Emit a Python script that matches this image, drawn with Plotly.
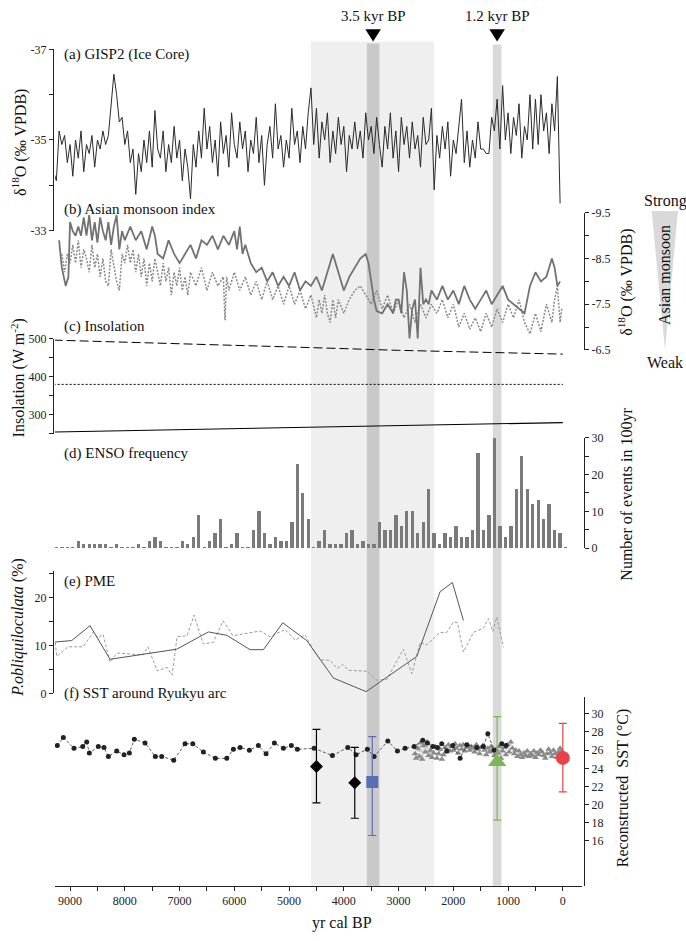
import plotly.graph_objects as go

W, H = 686, 941
def px(x): return x / W
def py(y): return 1 - y / H

FONT = "Liberation Serif, Times New Roman, Times, serif"

# ---------------- (a) GISP2 ----------------
gisp_years = list(range(9300, 0, -50))
gisp_d18o = [
    -34.3, -34.1, -35.2, -34.9, -35.1, -34.5, -34.9, -34.2, -35.0, -34.6,
    -35.2, -34.3, -34.9, -34.7, -35.1, -34.4, -35.0, -34.8, -35.2, -34.9,
    -35.1, -35.8, -36.45, -36.0, -35.4, -35.5, -34.9, -35.2, -34.5, -34.8,
    -33.8, -34.7, -34.3, -35.0, -34.5, -35.2, -34.4, -35.65, -34.8, -34.6,
    -35.2, -34.3, -34.9, -34.5, -35.3, -34.6, -35.0, -34.1, -34.8, -34.4,
    -33.7, -34.9, -34.4, -35.2, -34.6, -35.7, -34.8, -35.3, -34.5, -35.0,
    -34.2, -35.4, -34.7, -35.1, -34.4, -35.6, -34.9, -34.6, -35.4, -34.8,
    -35.2, -34.3, -35.0, -34.7, -35.5, -34.5, -35.1, -34.0, -34.9, -35.3,
    -34.6, -35.8, -34.8, -35.1, -34.4, -35.0, -34.6, -35.7, -34.9, -35.2,
    -34.5, -35.3, -34.8, -35.6, -36.15, -34.9, -35.7, -34.6, -35.4, -35.0,
    -35.6, -34.5, -35.2, -34.7, -35.5, -34.9, -35.3, -34.3, -35.1, -34.8,
    -35.4, -34.8, -35.2, -34.6, -35.6, -35.0, -35.3, -34.7, -35.5, -34.9,
    -34.4, -35.3, -34.8, -35.6, -34.6, -35.2, -34.3, -35.5, -34.9, -35.3,
    -34.6, -35.4, -34.8, -35.1, -34.4, -35.5, -34.9, -35.0, -35.7, -33.9,
    -35.1, -34.6, -35.3, -34.8, -35.4, -34.2, -35.0, -34.7, -35.3, -35.9,
    -34.5, -35.2, -34.4, -35.0, -34.6, -35.4, -34.8, -34.8, -34.7, -34.7,
    -35.5, -35.2, -35.9, -34.8, -36.2, -35.0, -35.6, -34.7, -35.5, -35.1,
    -35.8, -34.6, -35.3, -35.0, -36.0, -34.8, -35.9, -34.9, -36.0, -35.2,
    -35.6, -34.7, -35.8, -35.2, -36.4, -33.6,
]

# ---------------- (b) Asian monsoon index ----------------
am_solid_years = [9200, 9150, 9080, 9030, 9000, 8950, 8900, 8850, 8800, 8750, 8700, 8650, 8600, 8550,
                  8500, 8450, 8400, 8350, 8300, 8250, 8200, 8150, 8100, 8050, 8000, 7900, 7800, 7700,
                  7600, 7500, 7450, 7400, 7300, 7200, 7100, 7000, 6900, 6800, 6700, 6600, 6500, 6400,
                  6300, 6200, 6100, 6000, 5950, 5900, 5850, 5800, 5700, 5600, 5500, 5400, 5300, 5200,
                  5100, 5000, 4900, 4800, 4700, 4600, 4500, 4400, 4300, 4200, 4100, 4000, 3900, 3800,
                  3700, 3600, 3550, 3500, 3450, 3400, 3300, 3200, 3100, 3050, 3000, 2950, 2900, 2850,
                  2800, 2750, 2700, 2650, 2600, 2550, 2500, 2450, 2400, 2300, 2200, 2100, 2000, 1900,
                  1800, 1700, 1600, 1500, 1400, 1300, 1200, 1100, 1000, 900, 800, 700, 600, 500, 400,
                  300, 200, 150, 100, 50]
am_solid_d18o = [-8.9, -8.3, -7.9, -8.1, -9.3, -9.1, -9.0, -9.2, -9.0, -9.4, -9.0, -9.45, -8.9, -9.3,
                 -8.85, -9.4, -9.1, -8.9, -9.3, -8.8, -9.2, -9.45, -8.7, -9.1, -8.9, -9.2, -8.9, -9.1,
                 -8.7, -9.2, -9.0, -8.6, -8.5, -8.9, -8.6, -8.4, -8.6, -8.8, -8.5, -8.9, -8.8, -9.0,
                 -8.7, -9.0, -8.8, -9.1, -8.7, -9.2, -8.6, -8.8, -8.4, -8.2, -8.3, -8.0, -8.2, -7.9,
                 -8.1, -7.9, -8.2, -7.8, -8.0, -7.9, -8.1, -7.8, -8.2, -8.6, -8.2, -7.8, -8.1, -8.3,
                 -8.5, -8.6, -8.4, -8.0, -7.6, -7.35, -7.3, -7.5, -7.3, -7.6, -7.6, -7.3, -8.2, -7.8,
                 -6.75, -7.4, -7.6, -6.75, -8.3, -7.5, -7.6, -7.5, -7.8, -7.6, -7.9, -7.6, -7.8, -7.5,
                 -7.9, -7.6, -7.4, -7.6, -7.8, -7.5, -7.7, -7.9, -7.6, -7.5, -7.4, -7.3, -7.9, -8.2,
                 -8.0, -8.1, -8.5, -8.3, -7.9, -8.0]

am_dot_years = [9150, 9100, 9050, 9000, 8950, 8900, 8850, 8800, 8750, 8700, 8650, 8600, 8550, 8500,
                8450, 8400, 8350, 8300, 8250, 8200, 8150, 8100, 8050, 8000, 7950, 7900, 7850, 7800,
                7750, 7700, 7650, 7600, 7550, 7500, 7450, 7400, 7350, 7300, 7250, 7200, 7150, 7100,
                7050, 7000, 6950, 6900, 6850, 6800, 6700, 6600, 6500, 6400, 6300, 6200, 6170, 6140,
                6100, 6000, 5900, 5800, 5700, 5600, 5500, 5400, 5300, 5200, 5100, 5000, 4900, 4800,
                4700, 4600, 4500, 4450, 4400, 4350, 4300, 4250, 4200, 4150, 4100, 4000, 3900, 3800,
                3700, 3600, 3500, 3400, 3300, 3200, 3100, 3000, 2900, 2800, 2700, 2600, 2500, 2400,
                2300, 2200, 2100, 2000, 1900, 1800, 1700, 1600, 1500, 1400, 1300, 1200, 1100, 1000,
                900, 800, 700, 600, 500, 400, 300, 200, 150, 100, 50, 20]
am_dot_d18o = [-8.6, -8.2, -8.6, -8.4, -8.8, -8.4, -8.9, -8.3, -8.7, -8.5, -8.2, -8.8, -8.3, -8.6,
               -8.1, -8.5, -8.0, -7.9, -8.7, -8.3, -8.0, -7.8, -8.6, -8.4, -8.8, -8.4, -8.7, -8.2,
               -8.6, -8.1, -8.5, -7.9, -8.4, -8.0, -8.5, -8.2, -7.9, -8.4, -8.0, -8.3, -7.7, -8.2,
               -7.9, -8.3, -7.8, -8.1, -7.7, -8.2, -7.9, -8.3, -7.8, -8.2, -7.9, -8.1, -7.15, -8.1,
               -7.8, -8.2, -7.8, -8.1, -7.7, -8.0, -7.6, -8.0, -7.6, -7.9, -7.5, -7.9, -7.5, -7.8,
               -7.4, -7.7, -7.2, -7.6, -7.3, -7.7, -7.3, -7.1, -7.6, -7.2, -7.6, -7.3, -7.6, -7.8,
               -7.9, -7.7, -7.5, -7.8, -7.4, -7.7, -7.3, -7.6, -7.2, -7.5, -7.1, -7.5, -7.2, -7.5,
               -7.3, -7.6, -7.2, -7.5, -7.0, -7.3, -6.95, -7.2, -6.9, -7.3, -7.0, -7.4, -7.1, -7.5,
               -7.2, -7.6, -7.1, -6.85, -7.3, -6.9, -7.5, -7.1, -7.6, -7.9, -7.1, -7.4]

# ---------------- (c) Insolation ----------------
ins_years = [9300, 7000, 5000, 3000, 1000, 0]
ins_dashed = [497, 488, 479, 470, 463, 460]
ins_dotted = [380, 380, 380, 380, 380, 380]
ins_solid = [254, 260, 266, 272, 277, 279]

# ---------------- (d) ENSO frequency ----------------
enso_years = list(range(9250, -51, -100))
enso_events = [0.4, 0.4, 0.4, 0.4, 2, 1, 1, 1, 1, 1, 0.4, 1, 0.4, 0.4, 0.4, 1, 0.4, 2, 3, 2,
               0.4, 0.4, 0.4, 2, 1, 3, 9, 0.4, 2, 4, 8, 0.4, 1, 4, 0.4, 0.4, 5, 10, 4, 1,
               3, 2, 2, 7, 23, 15, 8, 0.4, 2, 5, 1, 1, 1, 4, 5, 1, 2, 1, 1, 7,
               5, 5, 9, 6, 10, 10, 4, 7, 16, 4, 1, 4, 3, 6, 3, 3, 5, 26, 5, 9,
               30, 6, 3, 6, 16, 25, 16, 12, 13, 8, 12, 5, 4, 0.4]

# ---------------- (e) PME ----------------
pme_solid_years = [9274, 8970, 8635, 8270, 7052, 6474, 6138, 5712, 5469, 5115, 4677, 4191, 3593, 2667, 2241, 2017, 1816]
pme_solid = [10.7, 11.0, 14.1, 7.1, 9.2, 12.8, 12.1, 9.1, 9.1, 14.7, 11.0, 3.2, 0.35, 7.7, 21.2, 23.1, 15.2]
pme_dash_years = [9270, 9244, 9037, 8763, 8580, 8489, 8398, 8270, 8142, 7667, 7576, 7411, 7228, 7137, 7045,
                  6863, 6735, 6570, 6387, 6205, 6023, 5530, 5347, 5073, 4891, 4708, 4562, 4434, 4252, 4124,
                  4014, 3917, 3580, 3398, 3215, 2912, 2758, 2607, 2484, 2241, 2119, 1999, 1925, 1816, 1633,
                  1450, 1359, 1279, 1206, 1085]
pme_dash = [10.6, 7.7, 9.7, 9.7, 12.7, 11.6, 12.3, 6.5, 8.4, 8.0, 9.7, 4.7, 5.4, 3.8, 11.8,
            12.0, 16.3, 10.3, 10.6, 15.1, 12.0, 13.0, 11.8, 13.3, 11.1, 12.2, 9.2, 7.0, 6.9, 5.2,
            6.0, 4.8, 4.6, 2.75, 2.9, 9.2, 4.1, 10.6, 10.1, 12.7, 12.7, 14.9, 14.7, 8.6, 12.7,
            13.6, 15.6, 12.9, 15.9, 9.6]

# ---------------- (f) SST ----------------
sst_dot_years = [9233, 9123, 8928, 8769, 8696, 8648, 8484, 8380, 8300, 8148, 8014, 7917, 7826, 7631,
                 7442, 7326, 7107, 6900, 6759, 6565, 6346, 6138, 6017, 5895, 5725, 5561, 5420, 5268,
                 5104, 4958, 4848, 4543, 4209, 3928, 3776, 3569, 3447, 3197, 3021, 2881, 2716, 2558,
                 2473, 2375, 2291, 2211, 2119, 2010, 1876, 1754, 1571, 1451, 1370, 1255, 1114, 1036]
sst_dot = [26.5, 27.4, 26.2, 26.4, 26.9, 25.7, 26.4, 26.3, 25.3, 25.9, 25.5, 25.7, 27.2, 26.8,
           25.3, 25.3, 24.9, 26.7, 26.7, 25.8, 25.1, 25.1, 26.1, 26.3, 26.0, 26.5, 25.6, 26.8,
           26.2, 26.5, 26.1, 26.2, 25.4, 26.3, 25.5, 26.1, 25.3, 27.0, 25.9, 26.2, 26.4, 27.1,
           26.8, 26.4, 26.3, 26.7, 25.9, 26.5, 25.1, 26.6, 26.3, 26.4, 27.8, 26.0, 26.7, 26.5]

sst_tri_years = [2700, 2680, 2650, 2620, 2600, 2570, 2540, 2510, 2480, 2450, 2420, 2390, 2360, 2330, 2300,
                 2270, 2240, 2210, 2180, 2150, 2120, 2090, 2060, 2030, 2000, 1970, 1940, 1910, 1880, 1850,
                 1820, 1790, 1760, 1730, 1700, 1670, 1640, 1610, 1580, 1550, 1520, 1490, 1460, 1430, 1400,
                 1370, 1340, 1310, 1280, 1250, 1220, 1190, 1160, 1130, 1100, 1070, 1040, 1010, 980, 950,
                 920, 890, 860, 830, 800, 770, 740, 710, 680, 650, 620, 590, 560, 530, 500, 470, 440, 410,
                 380, 350, 320, 290, 260, 230, 200, 170, 140, 110, 80, 50, 20]
sst_tri = [25.6, 25.1, 26.2, 25.3, 26.8, 25.0, 26.5, 25.8, 26.9, 25.4, 26.0, 25.2, 25.7, 26.4, 25.1,
           25.6, 26.1, 25.0, 25.5, 26.3, 25.8, 26.6, 25.9, 26.4, 26.0, 26.7, 26.2, 25.7, 26.5, 26.1,
           26.6, 25.9, 26.3, 26.5, 26.0, 26.4, 26.2, 25.8, 26.6, 26.1, 25.6, 26.3, 26.5, 26.0, 25.5,
           26.2, 25.8, 26.4, 26.0, 25.4, 26.1, 25.7, 26.4, 25.1, 25.9, 26.3, 25.5, 26.6, 25.8, 26.9,
           26.2, 25.6, 26.0, 25.3, 25.9, 25.5, 25.2, 25.7, 25.4, 25.9, 25.3, 25.6, 25.4, 25.9, 25.2,
           25.7, 25.5, 26.0, 25.8, 25.4, 25.1, 25.6, 26.1, 25.7, 25.3, 26.0, 25.6, 25.2, 25.8, 26.2, 25.9]

# single estimates with error bars
est_years = [4500, 3800, 3480, 1200, 0]
est_values = [24.2, 22.4, 22.5, 24.7, 25.15]
est_plus = [4.1, 3.9, 5.0, 5.0, 3.8]
est_minus = [4.0, 3.9, 5.9, 6.4, 3.75]
est_symbols = ["diamond", "diamond", "square", "triangle-up", "circle"]
est_colors = ["#000000", "#000000", "#5a6fb2", "#7bb853", "#e8434a"]
est_sizes = [10, 10, 12, 16, 14]

# event markers
event_years = [3465, 1200]
event_labels = ["3.5 kyr BP", "1.2 kyr BP"]

x_ticks = [9000, 8000, 7000, 6000, 5000, 4000, 3000, 2000, 1000, 0]

fig = go.Figure()

# shaded intervals
shade_y0, shade_y1 = py(892), py(35)
fig.add_shape(type="rect", xref="x", yref="paper", x0=4600, x1=2350, y0=shade_y0, y1=shade_y1,
              fillcolor="#efefef", line_width=0, layer="below")
fig.add_shape(type="rect", xref="x", yref="paper", x0=3580, x1=3350, y0=shade_y0, y1=py(37),
              fillcolor="#c9c9c9", line_width=0, layer="below")
fig.add_shape(type="rect", xref="x", yref="paper", x0=1280, x1=1120, y0=shade_y0, y1=py(38),
              fillcolor="#d9d9d9", line_width=0, layer="below")

# event triangles (x in years, y in paper)
for yr in event_years:
    fig.add_shape(type="path", xref="x", yref="paper",
                  path=f"M {yr + 142},{py(22.5)} L {yr - 142},{py(22.5)} L {yr},{py(35)} Z",
                  fillcolor="black", line_width=0, layer="above")

# (a)
fig.add_trace(go.Scatter(x=gisp_years, y=gisp_d18o, mode="lines", yaxis="y",
                         line=dict(color="#2a2a2a", width=1.0)))
# (b)
fig.add_trace(go.Scatter(x=am_dot_years, y=am_dot_d18o, mode="lines", yaxis="y2",
                         line=dict(color="#8a8a8a", width=1.5, dash="2px,1.5px")))
fig.add_trace(go.Scatter(x=am_solid_years, y=am_solid_d18o, mode="lines", yaxis="y2",
                         line=dict(color="#727272", width=1.8)))
# (c)
fig.add_trace(go.Scatter(x=ins_years, y=ins_dashed, mode="lines", yaxis="y3",
                         line=dict(color="black", width=1, dash="9px,4px")))
fig.add_trace(go.Scatter(x=ins_years, y=ins_dotted, mode="lines", yaxis="y3",
                         line=dict(color="black", width=1, dash="2px,2px")))
fig.add_trace(go.Scatter(x=ins_years, y=ins_solid, mode="lines", yaxis="y3",
                         line=dict(color="black", width=1.1)))
# (d)
fig.add_trace(go.Bar(x=enso_years, y=enso_events, yaxis="y4", width=62,
                     marker=dict(color="#7a7a7a", line_width=0)))
# (e)
fig.add_trace(go.Scatter(x=pme_dash_years, y=pme_dash, mode="lines", yaxis="y5",
                         line=dict(color="#9a9a9a", width=1, dash="3px,2px")))
fig.add_trace(go.Scatter(x=pme_solid_years, y=pme_solid, mode="lines", yaxis="y5",
                         line=dict(color="#555555", width=1)))
# (f)
fig.add_trace(go.Scatter(x=sst_tri_years, y=sst_tri, mode="lines+markers", yaxis="y6",
                         line=dict(color="#9a9a9a", width=0.7, dash="2px,2px"),
                         marker=dict(symbol="triangle-up", size=6, color="#8a8a8a")))
fig.add_trace(go.Scatter(x=sst_dot_years, y=sst_dot, mode="lines+markers", yaxis="y6",
                         line=dict(color="#333333", width=0.8, dash="3px,2px"),
                         marker=dict(symbol="circle", size=5, color="#222222")))
for i in range(len(est_years)):
    fig.add_trace(go.Scatter(
        x=[est_years[i]], y=[est_values[i]], mode="markers", yaxis="y6",
        marker=dict(symbol=est_symbols[i], size=est_sizes[i], color=est_colors[i]),
        error_y=dict(type="data", symmetric=False, array=[est_plus[i]], arrayminus=[est_minus[i]],
                     color=est_colors[i], thickness=1.2, width=4)))

axcommon = dict(showgrid=False, zeroline=False, showline=True, linecolor="#222", linewidth=1,
                ticks="outside", ticklen=4, tickcolor="#222",
                tickfont=dict(family=FONT, size=12, color="#222"))
LEFT = px(53)
RIGHT = px(584)

fig.update_layout(
    width=W, height=H, margin=dict(l=0, r=0, t=0, b=0),
    paper_bgcolor="white", plot_bgcolor="rgba(0,0,0,0)",
    showlegend=False, bargap=0, hovermode=False,
    font=dict(family=FONT, size=13, color="#111"),
    xaxis=dict(domain=[px(55), px(582)], range=[9275, -350], anchor="free", position=py(892),
               tickvals=x_ticks, ticktext=[str(v) for v in x_ticks],
               minor=dict(tickvals=[8500, 7500, 6500, 5500, 4500, 3500, 2500, 1500, 500],
                          ticks="outside", ticklen=4, tickcolor="#222"),
               **axcommon),
    yaxis=dict(domain=[py(227), py(43)], range=[-33, -37], anchor="free", position=LEFT,
               tickvals=[-37, -35, -33], ticktext=["-37", "-35", "-33"],
               minor=dict(tickvals=[-36, -34], ticks="outside", ticklen=4, tickcolor="#222"),
               **axcommon),
    yaxis2=dict(domain=[py(348), py(209)], range=[-6.5, -9.5], anchor="free", position=RIGHT,
                side="right",
                tickvals=[-9.5, -8.5, -7.5, -6.5], ticktext=["-9.5", "-8.5", "-7.5", "-6.5"],
                minor=dict(tickvals=[-9, -8, -7], ticks="outside", ticklen=4, tickcolor="#222"),
                **axcommon),
    yaxis3=dict(domain=[py(433), py(337)], range=[250, 500], anchor="free", position=LEFT,
                tickvals=[300, 400, 500],
                minor=dict(tickvals=[250, 350, 450], ticks="outside", ticklen=4, tickcolor="#222"),
                **axcommon),
    yaxis4=dict(domain=[py(549.3), py(437.3)], range=[0, 30], anchor="free", position=RIGHT,
                side="right", tickvals=[0, 10, 20, 30],
                minor=dict(tickvals=[5, 15, 25], ticks="outside", ticklen=4, tickcolor="#222"),
                **axcommon),
    yaxis5=dict(domain=[py(696.7), py(573)], range=[0, 25.4], anchor="free", position=LEFT,
                tickvals=[0, 10, 20],
                minor=dict(tickvals=[5, 15, 25], ticks="outside", ticklen=4, tickcolor="#222"),
                **axcommon),
    yaxis6=dict(domain=[py(892), py(700)], range=[11.07, 31.9], anchor="free", position=RIGHT,
                side="right", tickvals=[16, 18, 20, 22, 24, 26, 28, 30],
                **axcommon),
)

ann = []
def label(text, x, y, size=15, xanchor="left", angle=0):
    ann.append(dict(text=text, x=px(x), y=py(y), xref="paper", yref="paper", showarrow=False,
                    xanchor=xanchor, yanchor="middle", textangle=angle,
                    font=dict(family=FONT, size=size, color="#111")))

label("(a) GISP2 (Ice Core)", 62, 48)
label("(b) Asian monsoon index", 62, 206)
label("(c) Insolation", 62, 324)
label("(d) ENSO frequency", 62, 453)
label("(e) PME", 62, 583)
label("(f) SST around Ryukyu arc", 62, 697)

label("δ<sup>18</sup>O (‰ VPDB)", 20, 138, size=16, xanchor="center", angle=-90)
label("δ<sup>18</sup>O (‰ VPDB)", 626, 280, size=16, xanchor="center", angle=-90)
label("Insolation (W m<sup>-2</sup>)", 18, 377, size=16, xanchor="center", angle=-90)
label("Number of events in 100yr", 627, 495, size=16, xanchor="center", angle=-90)
label("<i>P.obliquiloculata</i> (%)", 18, 630, size=16, xanchor="center", angle=-90)
label("Reconstructed  SST (°C)", 623, 793, size=16, xanchor="center", angle=-90)
label("yr cal BP", 342, 930, size=16, xanchor="center")

label("Strong", 665, 197, size=16, xanchor="center")
label("Weak", 665, 361, size=16, xanchor="center")
label("Asian monsoon", 665, 272, size=16, xanchor="center", angle=-90)

for yr, txt in zip(event_years, event_labels):
    ann.append(dict(text=txt, x=yr, y=py(9), xref="x", yref="paper", showarrow=False,
                    xanchor="center", yanchor="middle",
                    font=dict(family=FONT, size=15, color="#111")))

fig.update_layout(annotations=ann)

# monsoon strength wedge
fig.add_shape(type="path", xref="paper", yref="paper",
              path=f"M {px(651.7)},{py(207)} L {px(678)},{py(207)} L {px(665)},{py(348)} Z",
              fillcolor="#d9d9d9", line_width=0, layer="below")

fig.write_html("out.html", config={"displayModeBar": False, "staticPlot": True},
               post_script="document.body.style.margin='0';document.body.style.padding='0';"
                           "document.documentElement.style.overflow='hidden';")
